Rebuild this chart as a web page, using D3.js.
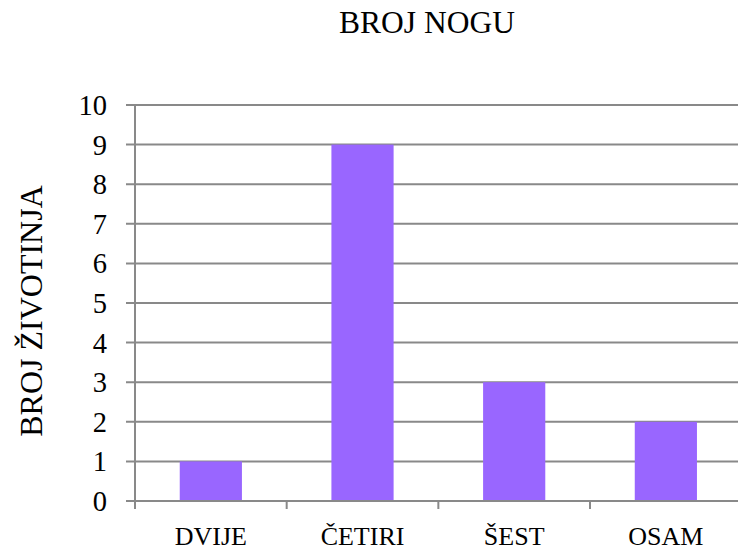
<!DOCTYPE html>
<html><head><meta charset="utf-8">
<script src="https://cdn.jsdelivr.net/npm/d3@7"></script>
<style>body{margin:0;background:#fff}</style>
</head><body>
<script>
const categories = ["DVIJE", "ČETIRI", "ŠEST", "OSAM"];
const values = [1, 9, 3, 2];
const yTicks = [0,1,2,3,4,5,6,7,8,9,10];
const title = "BROJ NOGU";
const yLabel = "BROJ ŽIVOTINJA";

const FONT = "'Times New Roman'";
const W = 738, H = 553;
const L = 135, R = 741.7, T = 105, B = 501;
const gridColor = "#898989";
const svg = d3.select("body").append("svg").attr("width", W).attr("height", H)
  .attr("font-family", FONT);

const x = d3.scaleBand().domain(categories).range([L, R]).paddingInner(0.59).paddingOuter(0.295);
const y = d3.scaleLinear().domain([0, 10]).range([B, T]);

svg.append("g").selectAll("line").data(yTicks).join("line")
  .attr("x1", L - 9).attr("x2", R).attr("y1", d => y(d)).attr("y2", d => y(d))
  .attr("stroke", gridColor).attr("stroke-width", 2);

svg.append("g").selectAll("rect").data(values).join("rect")
  .attr("x", (d, i) => x(categories[i])).attr("width", x.bandwidth())
  .attr("y", d => y(d)).attr("height", d => y(0) - y(d))
  .attr("fill", "#9966FF");

svg.append("line").attr("x1", L).attr("x2", L).attr("y1", T).attr("y2", B + 8)
  .attr("stroke", gridColor).attr("stroke-width", 2);
svg.append("line").attr("x1", L).attr("x2", R).attr("y1", B).attr("y2", B)
  .attr("stroke", gridColor).attr("stroke-width", 2);
const step = x.step();
svg.append("g").selectAll("line").data(categories).join("line")
  .attr("x1", d => x(d) - x.paddingOuter() * step + step).attr("x2", d => x(d) - x.paddingOuter() * step + step)
  .attr("y1", B).attr("y2", B + 8).attr("stroke", gridColor).attr("stroke-width", 2);

svg.append("g").selectAll("text").data(yTicks).join("text")
  .attr("font-family", FONT)
  .attr("x", 107).attr("y", d => y(d)).attr("dy", "0.35em")
  .attr("text-anchor", "end").attr("font-size", 28.5).text(d => String(d));

svg.append("g").selectAll("text").data(categories).join("text")
  .attr("font-family", FONT)
  .attr("x", d => x(d) + x.bandwidth() / 2).attr("y", 545)
  .attr("text-anchor", "middle").attr("font-size", 26).text(d => d);

svg.append("text").attr("font-family", FONT).attr("x", 427).attr("y", 33).attr("text-anchor", "middle")
  .attr("font-size", 31.5).text(title);

svg.append("text").attr("font-family", FONT).attr("transform", "translate(42,311) rotate(-90)")
  .attr("text-anchor", "middle").attr("font-size", 32).text(yLabel);
</script>
</body></html>
